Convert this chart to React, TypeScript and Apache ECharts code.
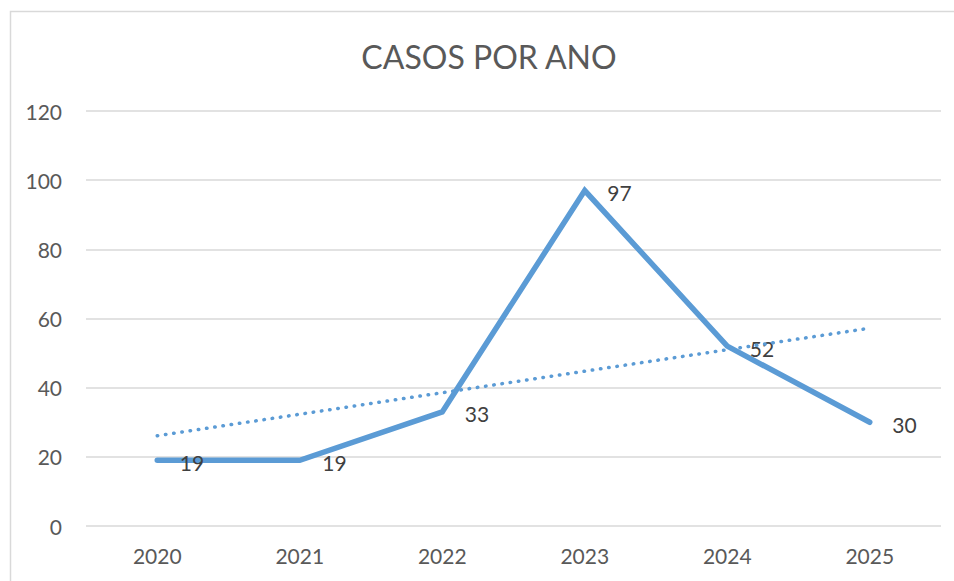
import React, { useEffect, useRef } from "react";
import * as echarts from "echarts";

const title = "CASOS POR ANO";
const years = ["2020", "2021", "2022", "2023", "2024", "2025"];
const cases = [19, 19, 33, 97, 52, 30];
const trend = [26.1, null, null, null, null, 57.2];
const yMin = 0;
const yMax = 120;
const yStep = 20;

export default function App() {
  const ref = useRef<HTMLDivElement>(null);
  useEffect(() => {
    if (!ref.current) return;
    const chart = echarts.init(ref.current, undefined, { renderer: "svg" });
    const font = "Lato, 'Open Sans', sans-serif";
    chart.setOption({
      animation: false,
      backgroundColor: "#ffffff",
      textStyle: { fontFamily: font },
      title: {
        text: title,
        left: 484,
        top: 35,
        textAlign: "center",
        textStyle: { fontFamily: font, fontSize: 32, fontWeight: "normal", color: "#595959" },
      },
      graphic: [
        {
          type: "rect",
          shape: { x: 10.5, y: 11.5, width: 1000, height: 700 },
          style: { fill: "none", stroke: "#d9d9d9", lineWidth: 1.5 },
          silent: true,
        },
      ],
      grid: { left: 86, right: 13, top: 111, bottom: 55, containLabel: false },
      xAxis: {
        type: "category",
        data: years,
        boundaryGap: true,
        axisLine: { show: false },
        axisTick: { show: false },
        axisLabel: { color: "#595959", fontSize: 21, margin: 19, fontFamily: font },
      },
      yAxis: {
        type: "value",
        min: yMin,
        max: yMax,
        interval: yStep,
        axisLine: { show: false },
        axisTick: { show: false },
        splitLine: { lineStyle: { color: "#d9d9d9", width: 1.5 } },
        axisLabel: { color: "#595959", fontSize: 21, margin: 24, fontFamily: font },
      },
      series: [
        {
          type: "line",
          data: cases,
          symbol: "circle",
          symbolSize: 1,
          showSymbol: true,
          itemStyle: { color: "rgba(91,155,213,0)" },
          lineStyle: { color: "#5B9BD5", width: 5.5, cap: "round", join: "miter" },
          label: {
            show: true,
            position: "right",
            distance: 22,
            offset: [0, 2],
            color: "#404040",
            fontSize: 21,
            fontFamily: font,
          },
          z: 2,
        },
        {
          type: "line",
          data: trend,
          connectNulls: true,
          symbol: "none",
          lineStyle: { color: "#5B9BD5", width: 3.5, type: [0.5, 7.8], cap: "round" },
          z: 3,
        },
      ],
    });
    return () => chart.dispose();
  }, []);
  return (
    <div
      ref={ref}
      style={{ position: "fixed", left: 0, top: 0, width: 954, height: 581 }}
    />
  );
}
